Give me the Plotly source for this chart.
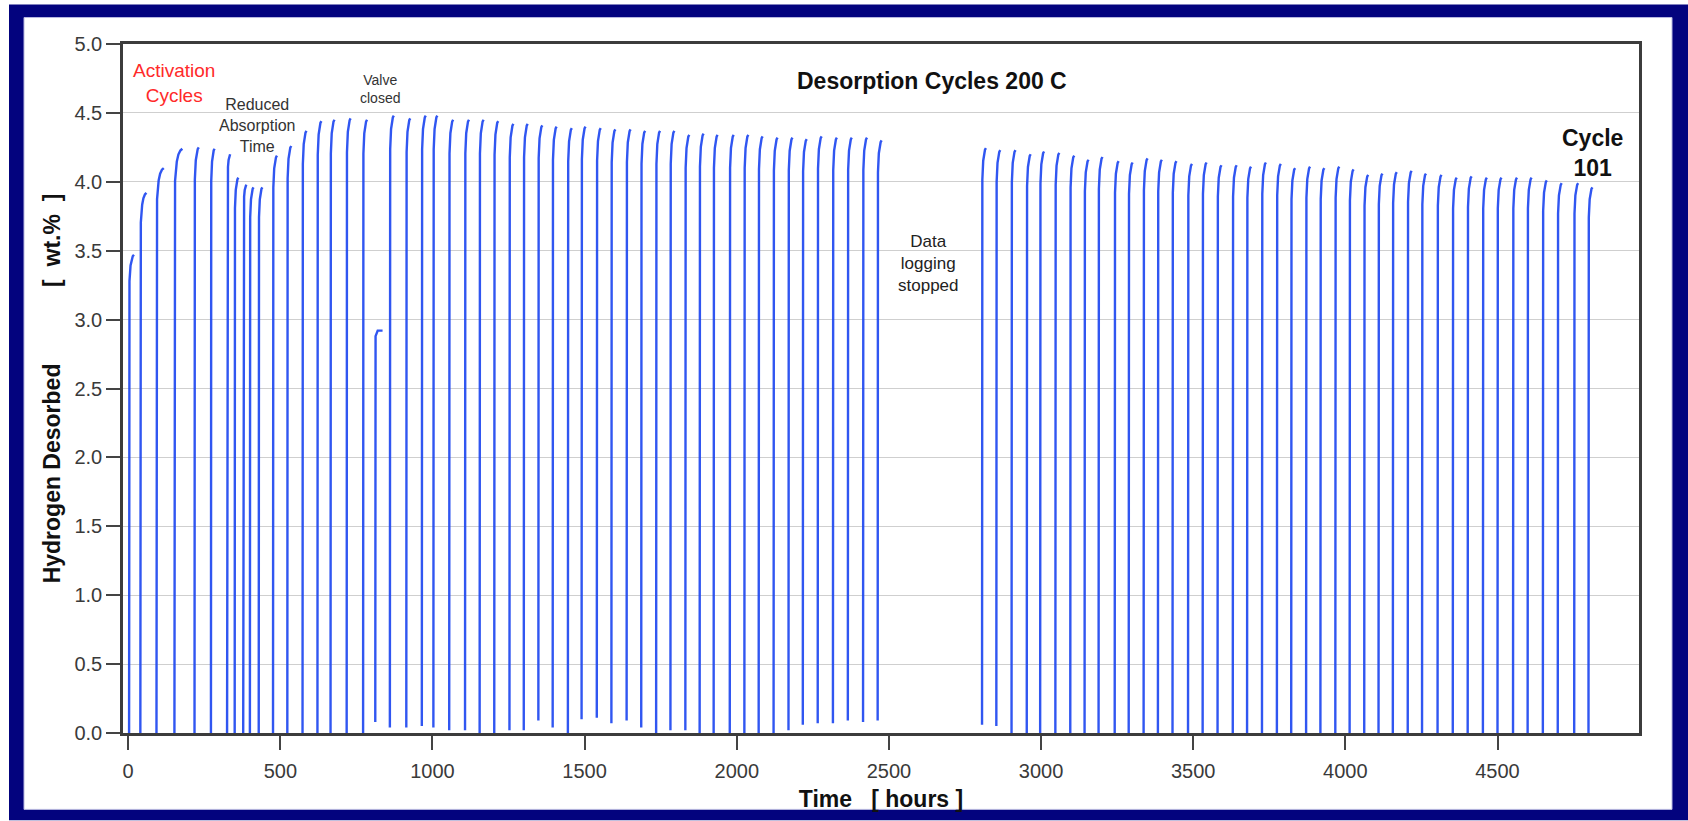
import plotly.graph_objects as go

# ---------------- data ----------------
# start time of each desorption cycle [hours]
cycle_start_hours = [
    3, 40, 93, 152, 218, 272, 325, 350, 378, 400, 429, 476, 523, 573, 622, 665, 718, 772,
    860, 914, 965, 1003, 1055, 1107, 1155, 1203, 1253, 1300, 1348, 1395, 1445, 1490, 1540,
    1588, 1638, 1686, 1735, 1782, 1831, 1878, 1924, 1977, 2025, 2072, 2121, 2170, 2217,
    2266, 2316, 2365, 2415, 2463,
    2806, 2853, 2903, 2953, 2997, 3047, 3096, 3143, 3189, 3242, 3288, 3337, 3384, 3432,
    3483, 3531, 3580, 3630, 3677, 3726, 3775, 3822, 3871, 3918, 3967, 4014, 4062, 4109,
    4156, 4205, 4252, 4303, 4353, 4402, 4452, 4500, 4551, 4599, 4649, 4698, 4752, 4799,
]
# peak hydrogen desorbed in each cycle [wt.%]
cycle_peak_wt = [
    3.47, 3.92, 4.10, 4.24, 4.25, 4.24, 4.20, 4.03, 3.98, 3.96, 3.96, 4.19, 4.26, 4.37, 4.44, 4.45, 4.46, 4.45,
    4.48, 4.46, 4.48, 4.48, 4.45, 4.45, 4.45, 4.44, 4.42, 4.42, 4.41, 4.40, 4.39, 4.40, 4.39,
    4.38, 4.38, 4.37, 4.37, 4.37, 4.34, 4.35, 4.34, 4.34, 4.34, 4.33, 4.32, 4.32, 4.31,
    4.33, 4.32, 4.32, 4.32, 4.30,
    4.245, 4.23, 4.23, 4.20, 4.22, 4.21, 4.19, 4.16, 4.18, 4.15, 4.14, 4.17, 4.16, 4.15,
    4.13, 4.14, 4.12, 4.12, 4.11, 4.14, 4.13, 4.10, 4.11, 4.10, 4.11, 4.09, 4.05, 4.06,
    4.07, 4.08, 4.06, 4.05, 4.03, 4.04, 4.03, 4.03, 4.03, 4.03, 4.01, 3.99, 3.99, 3.96,
]
# first logged value of each cycle [wt.%]
cycle_base_wt = [
    0, 0, 0, 0, 0, 0, 0, 0, 0, 0, 0, 0, 0, 0, 0, 0, 0, 0,
    0.04, 0.04, 0.05, 0.04, 0.02, 0.02, 0, 0, 0.02, 0.02, 0.09, 0.04, 0, 0.10, 0.11,
    0.07, 0.09, 0.04, 0, 0.02, 0.02, 0, 0, 0, 0, 0, 0, 0.02, 0.06,
    0.07, 0.07, 0.09, 0.08, 0.09,
    0.06, 0.05, 0, 0, 0, 0, 0, 0, 0, 0, 0, 0, 0, 0,
    0, 0, 0, 0, 0, 0, 0, 0, 0, 0, 0, 0, 0, 0,
    0, 0, 0, 0, 0, 0, 0, 0, 0, 0, 0, 0, 0, 0,
]
# duration of the rising part of each cycle [hours]
cycle_rise_hours = [16, 20, 24, 26, 14, 12, 10, 12, 10, 12, 12] + [13] * 83

# shape of one desorption curve (fraction of rise time -> fraction of capacity)
profile_time_frac = [0.0, 0.08, 0.3, 0.5, 0.75, 1.0]
profile_wt_frac = [0.0, 0.945, 0.978, 0.99, 0.997, 1.0]

# interrupted cycle ("Valve closed")
valve_closed_hours = [812, 813, 820, 836]
valve_closed_wt = [0.08, 2.88, 2.92, 2.92]

x_ticks = [0, 500, 1000, 1500, 2000, 2500, 3000, 3500, 4000, 4500]
y_ticks = [0.0, 0.5, 1.0, 1.5, 2.0, 2.5, 3.0, 3.5, 4.0, 4.5, 5.0]

# ---------------- build the curves ----------------
xs, ys = [], []
for t0, pk, b, rh in zip(cycle_start_hours, cycle_peak_wt, cycle_base_wt, cycle_rise_hours):
    for tf, wf in zip(profile_time_frac, profile_wt_frac):
        xs.append(t0 + tf * rh)
        ys.append(b + (pk - b) * wf)
    xs.append(None)
    ys.append(None)
xs += valve_closed_hours
ys += valve_closed_wt

fig = go.Figure()
fig.add_trace(go.Scatter(
    x=xs, y=ys, mode="lines",
    line=dict(color="rgba(30,72,240,0.92)", width=2.4),
    hoverinfo="skip", showlegend=False,
))

W, H = 1688, 821
L, R, T, B = 123, 1639, 43.5, 733.5


def px(xp):
    return (xp - L) / (R - L)


def py(yp):
    return (B - yp) / (B - T)


NAVY = "#03037e"
shapes = [
    dict(type="rect", xref="paper", yref="paper", layer="below",
         x0=px(9), x1=px(1688), y0=py(821), y1=py(4),
         fillcolor=NAVY, line=dict(width=0)),
    dict(type="rect", xref="paper", yref="paper", layer="below",
         x0=px(24), x1=px(1672), y0=py(810), y1=py(17),
         fillcolor="white", line=dict(color="#b8b8e0", width=1)),
]

FONT = "Arial, 'Liberation Sans', Helvetica, sans-serif"
annotations = [
    dict(x=151, y=4.72, text="Activation<br>Cycles", font=dict(color="#ff2a2a", size=19)),
    dict(x=424, y=4.41, text="Reduced<br>Absorption<br>Time", font=dict(color="#333333", size=16)),
    dict(x=828, y=4.67, text="Valve<br>closed", font=dict(color="#333333", size=14)),
    dict(x=2640, y=4.735, text="<b>Desorption Cycles 200 C</b>", font=dict(color="#111111", size=23)),
    dict(x=2629, y=3.41, text="Data<br>logging<br>stopped", font=dict(color="#222222", size=17)),
    dict(x=4811, y=4.21, text="<b>Cycle<br>101</b>", font=dict(color="#111111", size=23)),
]
for a in annotations:
    a.update(xref="x", yref="y", showarrow=False, xanchor="center", yanchor="middle")
    a["font"]["family"] = FONT

fig.update_layout(
    width=W, height=H,
    margin=dict(l=L, r=W - R, t=T, b=H - B, pad=0),
    paper_bgcolor="white",
    plot_bgcolor="rgba(0,0,0,0)",
    font=dict(family=FONT, color="#333333"),
    shapes=shapes,
    annotations=annotations,
    showlegend=False,
)
fig.update_xaxes(
    range=[-17, 4965], tickvals=x_ticks, ticktext=[str(v) for v in x_ticks],
    showgrid=False, zeroline=False,
    showline=True, mirror=True, linecolor="#3c3c3c", linewidth=2.5,
    ticks="outside", ticklen=14, tickwidth=2, tickcolor="#444444",
    tickfont=dict(size=20, color="#3a3a3a"), ticklabelstandoff=4,
    title=dict(text="<b>Time&nbsp;&nbsp;&nbsp;[ hours ]</b>", font=dict(size=23, color="#111111"), standoff=11),
)
fig.update_yaxes(
    range=[0, 5], tickvals=y_ticks, ticktext=[f"{v:.1f}" for v in y_ticks],
    showgrid=True, gridcolor="#cfcfcf", gridwidth=1.3, zeroline=False,
    showline=True, mirror=True, linecolor="#3c3c3c", linewidth=2.5,
    ticks="outside", ticklen=14, tickwidth=2, tickcolor="#444444",
    tickfont=dict(size=20, color="#3a3a3a"),
    title=dict(text="<b>Hydrogen Desorbed" + "&nbsp;" * 12 + "[&nbsp;&nbsp;wt.%&nbsp;&nbsp;]</b>",
               font=dict(size=23, color="#111111"), standoff=8),
)

fig.write_html(
    "out.html",
    config={"displayModeBar": False},
    post_script="document.body.style.margin='0';document.body.style.overflow='hidden';",
)
